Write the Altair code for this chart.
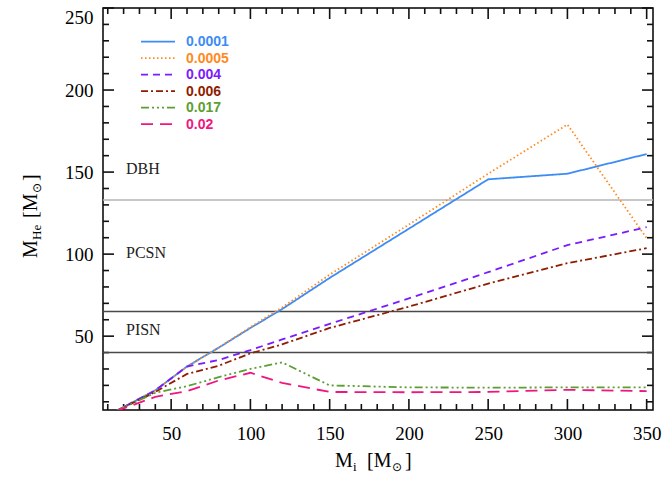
import altair as alt
import pandas as pd

# ---- data ----
mi = [15, 40, 60, 80, 100, 120, 150, 200, 250, 300, 350]
z_0001 = [4.2, 17, 31.5, 43, 55, 66.5, 85.5, 115.5, 145.6, 149, 161]
z_0005 = [4.2, 17, 31.5, 43, 55.5, 67.5, 87.5, 118, 149, 179, 109.7]
z_004 = [4.2, 17, 31.5, 35.5, 41.5, 48, 57.5, 73, 89, 105.5, 116.4]
z_006 = [4.2, 16, 27, 32, 39.5, 45, 55, 68, 82, 94.5, 103.6]
z_017 = [4.2, 15.5, 19.5, 25, 30, 34, 20, 18.8, 18.6, 18.8, 18.8]
z_02 = [4.2, 13, 16.5, 23, 27.7, 21.5, 16, 15.8, 16, 17.3, 16.5]

series_names = ["0.0001", "0.0005", "0.004", "0.006", "0.017", "0.02"]
series_values = [z_0001, z_0005, z_004, z_006, z_017, z_02]
series_colors = ["#3d8cf5", "#ff8a1e", "#7a1cff", "#8f1d00", "#5c9e31", "#f0167f"]
series_dash = [[1, 0], [1.5, 2.5], [7, 5], [7, 3, 2, 3], [8, 3, 2, 3, 2, 3, 2, 3], [12, 7]]

hline_values = [133, 65, 40]
hline_colors = ["#b4b4b4", "#4a4a4a", "#4a4a4a"]

region_labels = ["DBH", "PCSN", "PISN"]
region_y = [152, 100.5, 53.8]
region_x = [21.5, 21.5, 21.5]

x_major = [50, 100, 150, 200, 250, 300, 350]
x_minor = [10, 20, 30, 40, 60, 70, 80, 90, 110, 120, 130, 140, 160, 170, 180, 190,
           210, 220, 230, 240, 260, 270, 280, 290, 310, 320, 330, 340]
y_major = [50, 100, 150, 200, 250]
y_minor = [10, 20, 30, 40, 60, 70, 80, 90, 110, 120, 130, 140, 160, 170, 180, 190,
           210, 220, 230, 240]

W, H = 550, 402
SERIF = "Liberation Serif"

xs = alt.Scale(domain=[7, 354], nice=False, zero=False)
ys = alt.Scale(domain=[5, 250], nice=False, zero=False)
one = pd.DataFrame({"a": [0]})

xaxis = alt.Axis(values=x_major, title=None, ticks=False, domain=False, grid=False,
                 labelFont=SERIF, labelFontSize=19, labelColor="black",
                 labelPadding=14, format="d")
yaxis = alt.Axis(values=y_major, title=None, ticks=False, domain=False, grid=False,
                 labelFont=SERIF, labelFontSize=19, labelColor="black",
                 labelPadding=10, labelFlush=True, format="d")

layers = []

# inward frame ticks (bottom/top on x, left/right on y)
TC = "#111111"
for vals, ln in ((x_major, 11), (x_minor, 6)):
    dx = pd.DataFrame({"xt": vals})
    layers.append(alt.Chart(dx).mark_rule(color=TC, strokeWidth=1.6).encode(
        x=alt.X("xt:Q", scale=xs, axis=xaxis), y=alt.value(H), y2=alt.value(H - ln)))
    layers.append(alt.Chart(dx).mark_rule(color=TC, strokeWidth=1.6).encode(
        x=alt.X("xt:Q", scale=xs, axis=xaxis), y=alt.value(0), y2=alt.value(ln)))
for vals, ln in ((y_major, 11), (y_minor, 6)):
    dy = pd.DataFrame({"yt": vals})
    layers.append(alt.Chart(dy).mark_rule(color=TC, strokeWidth=1.6).encode(
        y=alt.Y("yt:Q", scale=ys, axis=yaxis), x=alt.value(0), x2=alt.value(ln)))
    layers.append(alt.Chart(dy).mark_rule(color=TC, strokeWidth=1.6).encode(
        y=alt.Y("yt:Q", scale=ys, axis=yaxis), x=alt.value(W - ln), x2=alt.value(W)))

# horizontal reference lines
for hv, hc in zip(hline_values, hline_colors):
    layers.append(
        alt.Chart(pd.DataFrame({"hy": [hv]})).mark_rule(strokeWidth=1.5, color=hc).encode(
            y=alt.Y("hy:Q", scale=ys, axis=yaxis))
    )

# region labels
rdf = pd.DataFrame({"rx": region_x, "ry": region_y, "t": region_labels})
layers.append(
    alt.Chart(rdf).mark_text(font=SERIF, fontSize=16, align="left", baseline="middle",
                             color="#222222").encode(
        x=alt.X("rx:Q", scale=xs, axis=xaxis), y=alt.Y("ry:Q", scale=ys, axis=yaxis), text="t:N")
)

# series lines
for name, vals, col, dash in zip(series_names, series_values, series_colors, series_dash):
    df = pd.DataFrame({"mi": mi, "m": vals})
    layers.append(
        alt.Chart(df).mark_line(color=col, strokeDash=dash, strokeWidth=1.8, clip=True).encode(
            x=alt.X("mi:Q", scale=xs, axis=xaxis),
            y=alt.Y("m:Q", scale=ys, axis=yaxis),
        )
    )

# legend
for i, (name, col, dash) in enumerate(zip(series_names, series_colors, series_dash)):
    ly = 33.7 + i * 16.5
    layers.append(
        alt.Chart(one).mark_rule(color=col, strokeDash=dash, strokeWidth=1.8).encode(
            x=alt.value(38), x2=alt.value(72), y=alt.value(ly))
    )
    layers.append(
        alt.Chart(one).mark_text(text=name, color=col, font="Liberation Sans", fontWeight="bold",
                                 fontSize=14, align="left", baseline="middle").encode(
            x=alt.value(83), y=alt.value(ly + 0.5))
    )

# axis titles built from pieces (subscripts)
def piece(text, x, y, size, angle=0, font=SERIF):
    kw = dict(text=text, font=font, fontSize=size, align="left", baseline="alphabetic", color="black")
    if angle:
        kw["angle"] = angle
    return alt.Chart(one).mark_text(**kw).encode(x=alt.value(x), y=alt.value(y))

layers += [
    piece("M", 232, 459, 20),
    piece("i", 250, 463, 13),
    piece("[M", 264, 459, 20),
    piece("\u2299", 289, 463, 12, font="DejaVu Sans"),
    piece("]", 302, 459, 20),
    piece("M", -66, 250, 20, angle=270),
    piece("He", -62, 232, 13, angle=270),
    piece("[M", -66, 210, 20, angle=270),
    piece("\u2299", -62, 185, 12, angle=270, font="DejaVu Sans"),
    piece("]", -66, 173, 20, angle=270),
]

chart = alt.layer(*layers).properties(
    width=W, height=H,
    autosize=alt.AutoSizeParams(type="none"),
    padding={"left": 103, "top": 8, "right": 13, "bottom": 70},
).configure_view(stroke="black", strokeWidth=1.5)

chart.save("out.html", embed_options={"renderer": "svg", "actions": False})
